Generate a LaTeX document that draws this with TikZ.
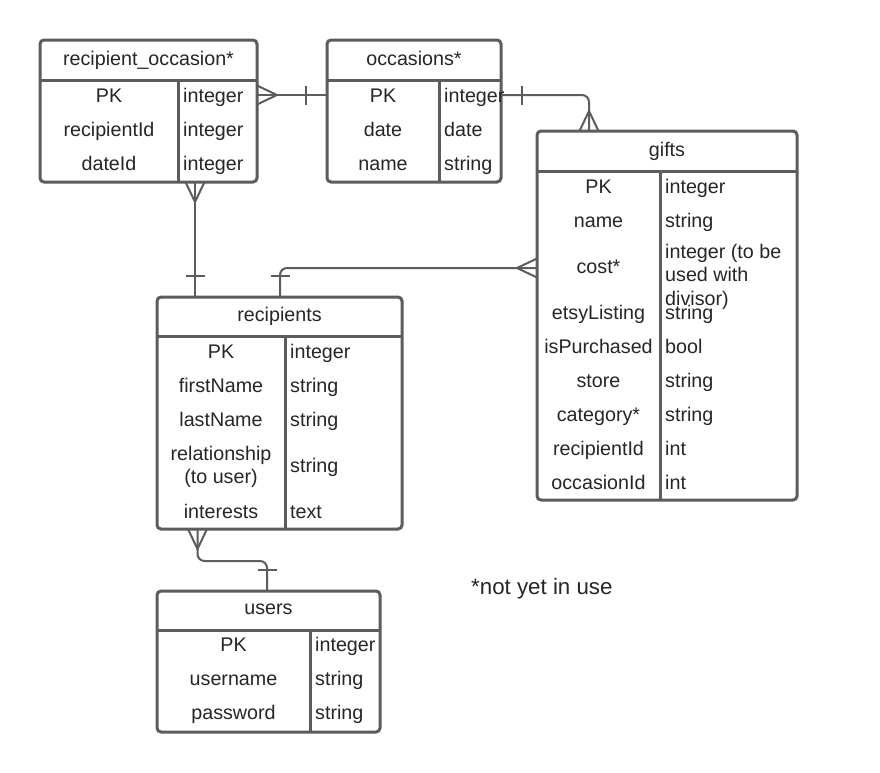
\documentclass[tikz,border=0pt]{standalone}
\usepackage{fontspec}
\setmainfont{Liberation Sans}
\usepackage{tikz}
\definecolor{erline}{RGB}{92,92,92}
\definecolor{ertext}{RGB}{38,38,38}
\tikzstyle{entity}=[draw=erline, line width=3pt, rounded corners=4pt, inner sep=0pt, outer sep=0pt, anchor=north west]
\tikzstyle{sep}=[draw=erline, line width=3pt]
\tikzstyle{field}=[text=ertext, inner sep=0pt, text height=14pt, text depth=0pt, font=\fontsize{19.7}{23.4}\selectfont]
\tikzstyle{ftype}=[field, anchor=west]
\tikzstyle{lines}=[text=ertext, inner sep=0pt, font=\fontsize{19.7}{23.4}\selectfont]
\tikzstyle{rel}=[draw=erline, line width=2pt]
\tikzset{many/.pic={\draw[rel] (0,-9.5) -- (20,0) -- (0,9.5);},
  one/.pic={\draw[rel] (21,-9.5) -- (21,9.5);}}

\begin{document}
\begin{tikzpicture}[x=1pt,y=-1pt]
		\fill[white] (0,0) rectangle (880,772);
		\useasboundingbox (0,0) rectangle (880,772);

		% recipient_occasion
		\node[entity, minimum width=217pt, minimum height=142pt] (ro) at (40,40) {};
		\draw[sep] (40,80) -- (257,80);
		\draw[sep] (178,80) -- (178,182);
		\node[field] (ro-h) at (148.5,58) {recipient\_occasion*};
		\node[field] (ro-pk) at (109,95) {PK};
		\node[field] (ro-rid) at (109,129) {recipientId};
		\node[field] (ro-did) at (109,163) {dateId};
		\node[ftype] (ro-pk-t) at (183,95) {integer};
		\node[ftype] (ro-rid-t) at (183,129) {integer};
		\node[ftype] (ro-did-t) at (183,163) {integer};

		% occasions
		\node[entity, minimum width=174pt, minimum height=142pt] (occ) at (327,40) {};
		\draw[sep] (327,80) -- (501,80);
		\draw[sep] (439,80) -- (439,182);
		\node[field] (occ-h) at (414,58) {occasions*};
		\node[field] (occ-pk) at (383,95) {PK};
		\node[field] (occ-date) at (383,129) {date};
		\node[field] (occ-name) at (383,163) {name};
		\node[ftype] (occ-pk-t) at (444,95) {integer};
		\node[ftype] (occ-date-t) at (444,129) {date};
		\node[ftype] (occ-name-t) at (444,163) {string};

		% gifts
		\node[entity, minimum width=260pt, minimum height=369pt] (gifts) at (537,131) {};
		\draw[sep] (537,171) -- (797,171);
		\draw[sep] (660,171) -- (660,500);
		\node[field] (gifts-h) at (667,149) {gifts};
		\node[field] (gifts-pk) at (598.5,186) {PK};
		\node[field] (gifts-name) at (598.5,220) {name};
		\node[field] (gifts-cost) at (598.5,266) {cost*};
		\node[field] (gifts-etsy) at (598.5,312) {etsyListing};
		\node[field] (gifts-pur) at (598.5,346) {isPurchased};
		\node[field] (gifts-store) at (598.5,380) {store};
		\node[field] (gifts-cat) at (598.5,414) {category*};
		\node[field] (gifts-rid) at (598.5,448) {recipientId};
		\node[field] (gifts-oid) at (598.5,482) {occasionId};
		\node[ftype] (gifts-pk-t) at (665,186) {integer};
		\node[ftype] (gifts-name-t) at (665,220) {string};
		\node[lines, anchor=north west, align=left] (gifts-cost-t) at (665,244) {integer (to be\\used with\\divisor)};
		\node[ftype] (gifts-etsy-t) at (665,312) {string};
		\node[ftype] (gifts-pur-t) at (665,346) {bool};
		\node[ftype] (gifts-store-t) at (665,380) {string};
		\node[ftype] (gifts-cat-t) at (665,414) {string};
		\node[ftype] (gifts-rid-t) at (665,448) {int};
		\node[ftype] (gifts-oid-t) at (665,482) {int};

		% recipients
		\node[entity, minimum width=245pt, minimum height=232pt] (rec) at (157,297) {};
		\draw[sep] (157,336) -- (402,336);
		\draw[sep] (285,336) -- (285,529);
		\node[field] (rec-h) at (279.5,314) {recipients};
		\node[field] (rec-pk) at (221,351) {PK};
		\node[field] (rec-fn) at (221,385) {firstName};
		\node[field] (rec-ln) at (221,419) {lastName};
		\node[lines, align=center] (rec-rel) at (221,467) {relationship\\(to user)};
		\node[field] (rec-int) at (221,511) {interests};
		\node[ftype] (rec-pk-t) at (290,351) {integer};
		\node[ftype] (rec-fn-t) at (290,385) {string};
		\node[ftype] (rec-ln-t) at (290,419) {string};
		\node[ftype] (rec-rel-t) at (290,465) {string};
		\node[ftype] (rec-int-t) at (290,511) {text};

		% users
		\node[entity, minimum width=223pt, minimum height=141pt] (users) at (157,591) {};
		\draw[sep] (157,630) -- (380,630);
		\draw[sep] (310,630) -- (310,732);
		\node[field] (users-h) at (268.5,607) {users};
		\node[field] (users-pk) at (233.5,644) {PK};
		\node[field] (users-un) at (233.5,678) {username};
		\node[field] (users-pw) at (233.5,712) {password};
		\node[ftype] (users-pk-t) at (315,644) {integer};
		\node[ftype] (users-un-t) at (315,678) {string};
		\node[ftype] (users-pw-t) at (315,712) {string};

		\node[text=ertext, inner sep=0pt, anchor=base west, font=\fontsize{22.3}{26}\selectfont] (note) at (471,594) {*not yet in use};

		% relations
		\coordinate (ro-out) at (195,182);
		\coordinate (rec-in1) at (195,297);
		\coordinate (rec-in2) at (280,297);
		\coordinate (gifts-in) at (589,131);
		\coordinate (gifts-in2) at (537,268);
		\coordinate (rec-out) at (197.5,529);
		\coordinate (users-in) at (267,591);

		\draw[rel] (ro.east |- ro-pk) -- (occ.west |- ro-pk);
		\pic at (ro.east |- ro-pk) {many};
		\pic[rotate=180] at (occ.west |- ro-pk) {one};

		\draw[rel, rounded corners=7pt] (occ.east |- occ-pk) -| (gifts-in);
		\pic at (occ.east |- occ-pk) {one};
		\pic[rotate=90] at (gifts-in) {many};

		\draw[rel] (ro-out) -- (rec-in1);
		\pic[rotate=-90] at (ro-out) {many};
		\pic[rotate=90] at (rec-in1) {one};

		\draw[rel, rounded corners=7pt] (gifts-in2) -| (rec-in2);
		\pic[rotate=180] at (gifts-in2) {many};
		\pic[rotate=90] at (rec-in2) {one};

		\draw[rel, rounded corners=7pt] (rec-out) -- ++(0,32) -| (users-in);
		\pic[rotate=-90] at (rec-out) {many};
		\pic[rotate=90] at (users-in) {one};
		\end{tikzpicture}
\end{document}
